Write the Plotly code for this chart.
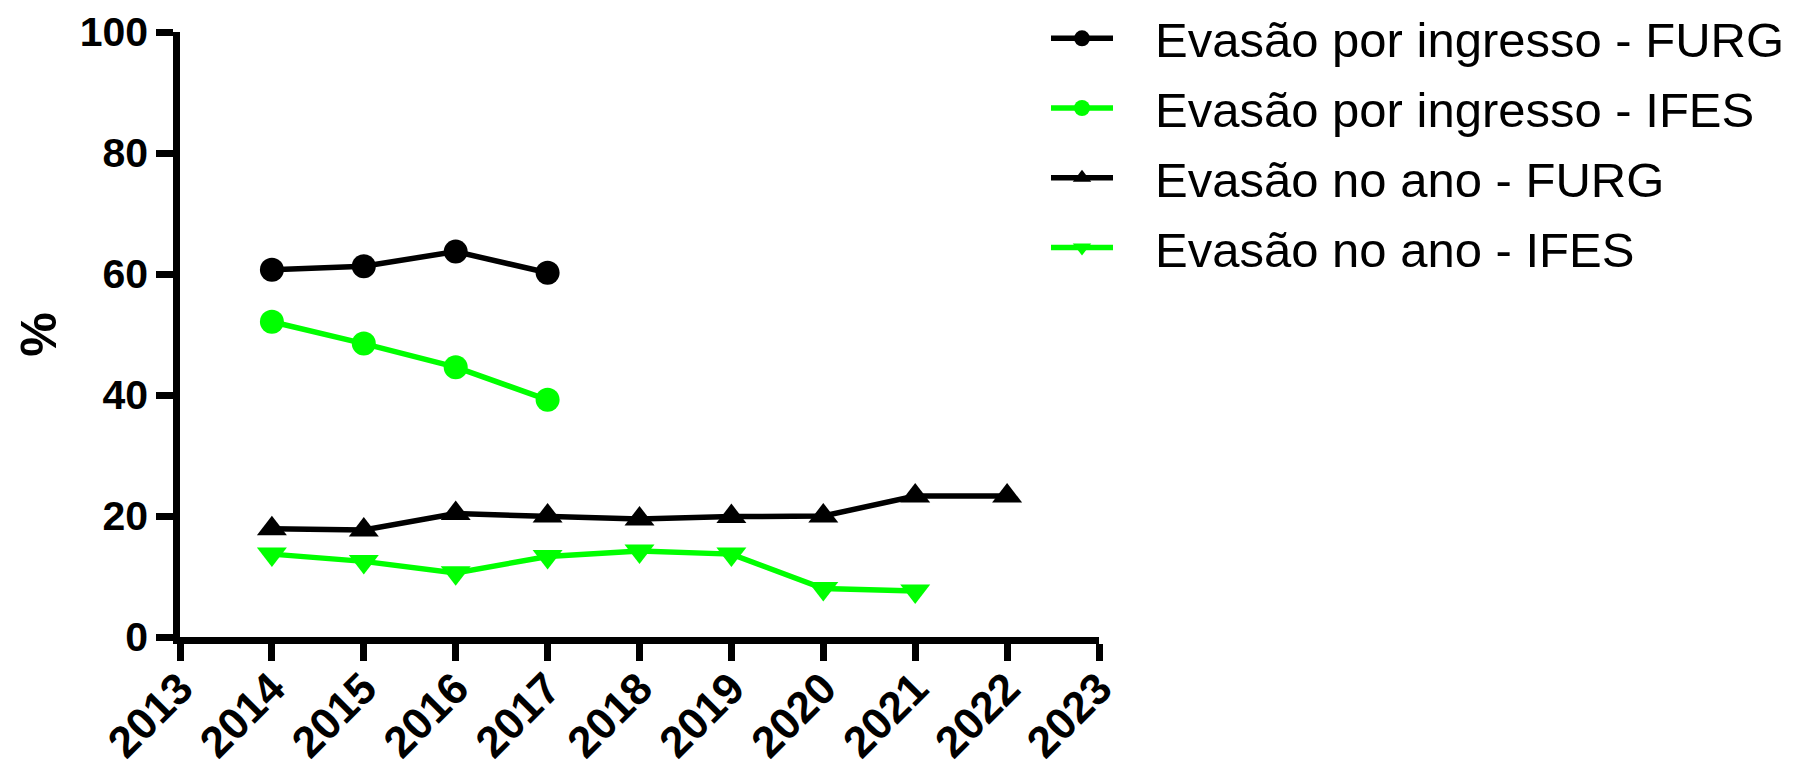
import plotly.graph_objects as go

years_ing = [2014, 2015, 2016, 2017]
years_ano_furg = [2014, 2015, 2016, 2017, 2018, 2019, 2020, 2021, 2022]
years_ano_ifes = [2014, 2015, 2016, 2017, 2018, 2019, 2020, 2021]

furg_ingresso = [60.7, 61.3, 63.7, 60.2]
ifes_ingresso = [52.1, 48.5, 44.6, 39.2]
furg_ano = [17.9, 17.7, 20.4, 20.0, 19.5, 19.9, 20.0, 23.3, 23.3]
ifes_ano = [13.7, 12.5, 10.6, 13.3, 14.2, 13.7, 8.0, 7.6]

names = [
    "Evasão por ingresso - FURG",
    "Evasão por ingresso - IFES",
    "Evasão no ano - FURG",
    "Evasão no ano - IFES",
]
x_ticks = list(range(2013, 2024))
y_ticks = [0, 20, 40, 60, 80, 100]

BLACK = "#000000"
GREEN = "#00FF00"
FONT = "Arial, Liberation Sans, sans-serif"
PAD = "\u00a0\u00a0\u2009"

fig = go.Figure()
series = [
    (years_ing, furg_ingresso, names[0], BLACK, "circle", 24),
    (years_ing, ifes_ingresso, names[1], GREEN, "circle", 24),
    (years_ano_furg, furg_ano, names[2], BLACK, "triangle-up", 26),
    (years_ano_ifes, ifes_ano, names[3], GREEN, "triangle-down", 26),
]
for i, (x, y, nm, col, sym, sz) in enumerate(series):
    fig.add_trace(go.Scatter(
        x=x, y=y, name=PAD + nm, mode="lines+markers",
        line=dict(color=col, width=5.5),
        marker=dict(color=col, symbol=sym, size=sz, line=dict(width=0)),
        legendgroup=f"g{i}",
    ))

fig.update_layout(
    width=1801, height=764,
    margin=dict(l=180, r=702, t=32, b=127, autoexpand=False),
    plot_bgcolor="white", paper_bgcolor="white",
    font=dict(family=FONT, color=BLACK),
    showlegend=True,
    legend=dict(
        x=(1046 - 180) / 919, xanchor="left",
        y=1.053, yanchor="top",
        font=dict(family=FONT, size=49, color=BLACK),
        tracegroupgap=3,
        itemwidth=62,
        bgcolor="rgba(0,0,0,0)",
    ),
)
fig.update_xaxes(
    range=[2013, 2023], tickmode="array", tickvals=x_ticks,
    ticktext=[str(v) for v in x_ticks],
    showline=True, linecolor=BLACK, linewidth=6.5,
    ticks="outside", ticklen=17, tickwidth=6.5, tickcolor=BLACK,
    tickangle=-45, showgrid=False, zeroline=False,
    ticklabelstandoff=-16,
    tickfont=dict(family=FONT, size=44, color=BLACK, weight="bold"),
    automargin=False,
)
fig.update_yaxes(
    range=[0, 100], tickmode="array", tickvals=y_ticks,
    showline=True, linecolor=BLACK, linewidth=6.5,
    ticks="outside", ticklen=17, tickwidth=6.5, tickcolor=BLACK,
    showgrid=False, zeroline=False,
    tickfont=dict(family=FONT, size=41, color=BLACK, weight="bold"),
    title=dict(text="%", standoff=10,
               font=dict(family=FONT, size=50, color=BLACK, weight="bold")),
    automargin=False,
)

fig.write_html(
    "out.html",
    config={"displayModeBar": False},
    post_script="document.body.style.margin='0';document.body.style.overflow='hidden';",
)
